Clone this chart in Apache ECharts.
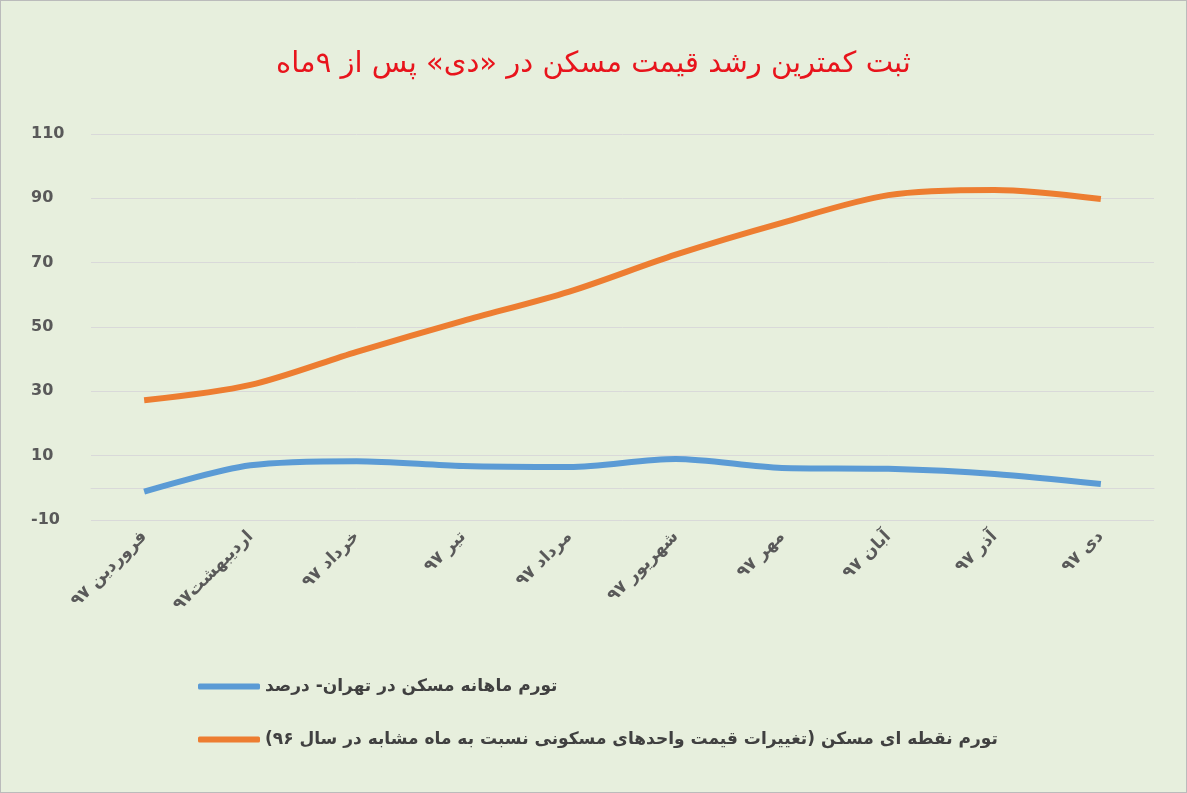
<!DOCTYPE html>
<html lang="fa">
<head>
<meta charset="UTF-8">
<title>chart</title>
<script src="https://cdn.jsdelivr.net/npm/echarts@6/dist/echarts.min.js"></script>
<style>
body{margin:0;background:#fff}
#main{width:1185px;height:791px;border:1px solid #bbb;background:#e7efdd}
</style>
</head>
<body>
<div id="main"></div>
<script>
var months = ['فروردین ۹۷', 'اردیبهشت۹۷', 'خرداد ۹۷', 'تیر ۹۷', 'مرداد ۹۷', 'شهریور ۹۷', 'مهر ۹۷', 'آبان ۹۷', 'آذر ۹۷', 'دی ۹۷'];
var monthly = [-1.2, 7, 8.3, 6.8, 6.5, 9, 6.2, 5.9, 4.3, 1.2];
var pointToPoint = [27.2, 32, 42.3, 51.9, 61, 72.5, 82.4, 91, 92.6, 89.8];
var nameMonthly = 'تورم ماهانه مسکن در تهران- درصد';
var namePoint = 'تورم نقطه ای مسکن (تغییرات قیمت واحدهای مسکونی نسبت به ماه مشابه در سال ۹۶)';

var myChart = echarts.init(document.getElementById('main'));
var font = 'DejaVu Sans';
myChart.setOption({
	title: {
		text: 'ثبت کمترین رشد قیمت مسکن در «دی» پس از ۹ماه',
		left: 'center', top: 44,
		textStyle: { color: '#e8141c', fontSize: 29, fontWeight: 'normal', fontFamily: font }
	},
	grid: { left: 90, right: 32, top: 133, bottom: 272 },
	legend: {
		orient: 'vertical', left: 192, top: 672, itemWidth: 62, itemHeight: 6, itemGap: 36,
		icon: 'roundRect',
		textStyle: { fontSize: 17, fontWeight: 'bold', color: '#404040', fontFamily: font },
		data: [nameMonthly, namePoint]
	},
	xAxis: {
		type: 'category', data: months, boundaryGap: ['3%', '3%'],
		axisLine: { onZero: true, lineStyle: { color: '#d9d9d9' } },
		axisTick: { show: false },
		axisLabel: { rotate: 45, interval: 0, fontSize: 17, fontWeight: 'bold', color: '#595959', fontFamily: font, margin: 14 }
	},
	yAxis: {
		type: 'value', min: -10, max: 110, interval: 20,
		axisLine: { show: false }, axisTick: { show: false },
		splitLine: { lineStyle: { color: '#d9d9d9' } },
		axisLabel: { fontSize: 16, fontWeight: 'bold', color: '#595959', fontFamily: font, align: 'left', margin: 60 }
	},
	series: [
		{ name: nameMonthly, type: 'line', data: monthly, smooth: 0.3, showSymbol: false,
		  lineStyle: { width: 6, color: '#5b9bd5' }, itemStyle: { color: '#5b9bd5' } },
		{ name: namePoint, type: 'line', data: pointToPoint, smooth: 0.3, showSymbol: false,
		  lineStyle: { width: 6, color: '#ed7d31' }, itemStyle: { color: '#ed7d31' } }
	]
});
</script>
</body>
</html>
